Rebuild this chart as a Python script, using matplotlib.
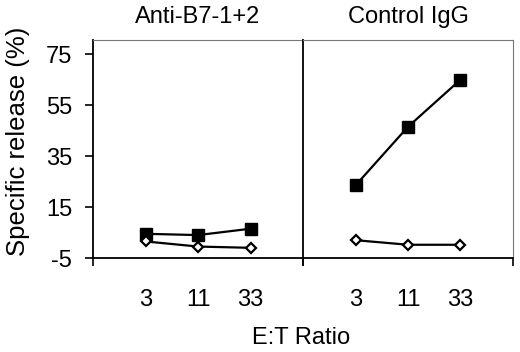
import numpy as np
import matplotlib.pyplot as plt

plt.rcParams['font.family'] = ['Liberation Sans', 'DejaVu Sans']

ratios = ["3", "11", "33"]
y_ticks = [75, 55, 35, 15, -5]

anti_b7_filled = [4.5, 4.0, 6.5]
anti_b7_open = [1.5, -0.5, -1.0]
control_filled = [23.5, 46.5, 65.0]
control_open = [2.0, 0.2, 0.2]

panels = [("Anti-B7-1+2", anti_b7_filled, anti_b7_open),
          ("Control IgG", control_filled, control_open)]

if __name__ == "__main__":
    fig, axes = plt.subplots(1, 2, sharey=True, figsize=(5.2, 3.52), dpi=100)
    fig.subplots_adjust(left=0.179, right=0.9865, bottom=0.267, top=0.886, wspace=0)

    x = np.arange(1, len(ratios) + 1)
    for ax, (title, filled, opened) in zip(axes, panels):
        ax.plot(x, filled, color='black', lw=1.6, marker='s', ms=8,
                mfc='black', mec='black', zorder=3)
        ax.plot(x, opened, color='black', lw=1.6, marker='D', ms=5.5,
                mfc='white', mec='black', mew=1.6, zorder=3)
        ax.set_xlim(0, 4)
        ax.set_ylim(-5, 80.5)
        ax.set_title(title, fontsize=17, pad=12)

        ax.set_xticks(x)
        ax.set_xticklabels(ratios, fontsize=17)
        ax.tick_params(axis='x', which='major', length=0, pad=22)
        ax.set_xticks([0, 4], minor=True)
        ax.tick_params(axis='x', which='minor', length=6, width=1.2, direction='out')

        for side in ['top', 'right']:
            ax.spines[side].set_color('#777777')
            ax.spines[side].set_linewidth(0.8)
        ax.spines['bottom'].set_linewidth(1.3)
        ax.spines['left'].set_linewidth(1.3)

    axes[0].spines['right'].set_visible(False)
    axes[0].set_yticks(y_ticks)
    axes[0].set_yticklabels([str(v) for v in y_ticks], fontsize=17)
    axes[0].tick_params(axis='y', length=6, width=1.2, direction='out', pad=9)
    axes[1].tick_params(axis='y', length=0, labelleft=False)

    fig.text(18 / 520, 1 - 141 / 352, "Specific release (%)", rotation=90,
             ha='center', va='center', fontsize=18.5)
    fig.text(301 / 520, 1 - 338 / 352, "E:T Ratio", ha='center', va='center',
             fontsize=17)

    fig.savefig("out.png", dpi=100)
